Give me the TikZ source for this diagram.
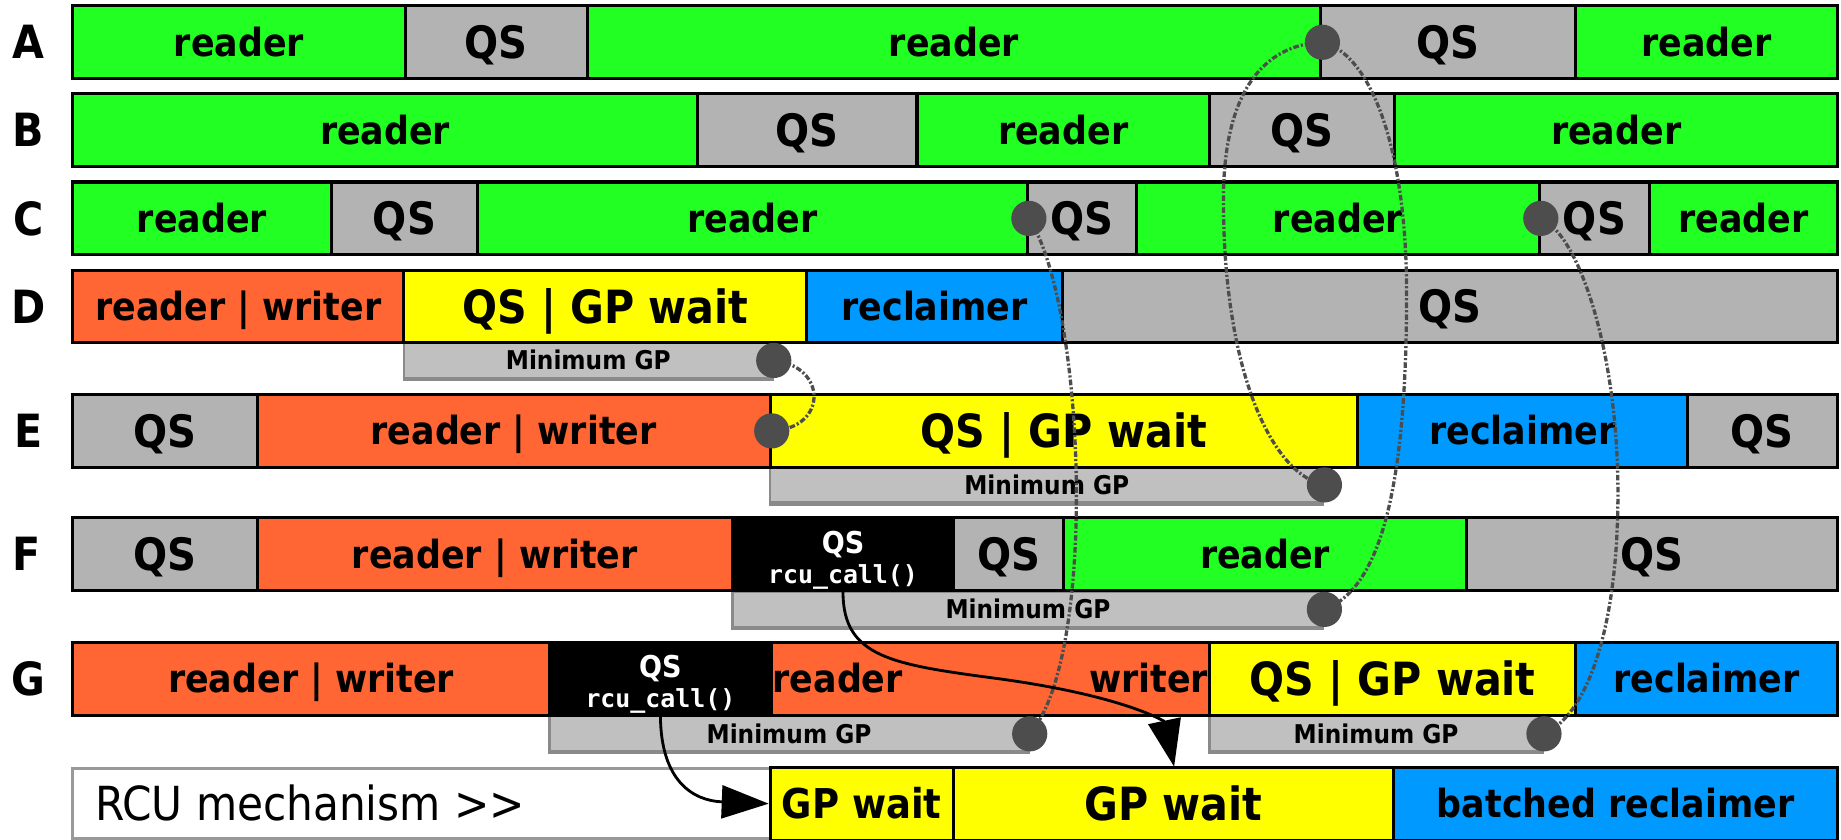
\documentclass[tikz,border=0pt]{standalone}
\usepackage{fontspec}
\setmainfont{DejaVu Sans Condensed}
\setmonofont{DejaVu Sans Mono}
\usetikzlibrary{arrows.meta}

\definecolor{rdgreen}{HTML}{22FF22}
\definecolor{qsgray}{HTML}{B3B3B3}
\definecolor{wrorange}{HTML}{FF6633}
\definecolor{gpyellow}{HTML}{FFFF00}
\definecolor{rcblue}{HTML}{0099FF}
\definecolor{bargray}{HTML}{C0C0C0}
\definecolor{baredge}{HTML}{8A8A8A}
\definecolor{rcuedge}{HTML}{999999}
\definecolor{dotgray}{HTML}{4D4D4D}

% one timeline segment: name, left x, right x, centre y, style, text
\newcommand\segbox[6]{\node[#5, minimum width={(#3-#2)*0.5pt}] (#1) at ({(#2+#3)/2},#4) {#6};}
% one "Minimum GP" bar: name, left x, right x, centre y
\newcommand\gpbarbox[4]{%
  \node[gpbar, minimum width={(#3-#2)*0.5pt}] (#1) at ({(#2+#3)/2},#4) {Minimum GP};
  \draw[baredge, line width=1.6pt] (#1.south west) -- (#1.south east);}

\begin{document}
\begin{tikzpicture}[x=0.5pt, y=-0.5pt,
  seg/.style={draw=black, line width=1.3pt, minimum height=31pt, inner sep=0pt,
    text height=12pt, text depth=0pt, font=\bfseries\fontsize{16.5}{18}\selectfont},
  reader/.style={seg, fill=rdgreen},
  qs/.style={seg, fill=qsgray, font=\bfseries\fontsize{19}{21}\selectfont, text height=13.9pt},
  rw/.style={seg, fill=wrorange},
  gp/.style={seg, fill=gpyellow, font=\bfseries\fontsize{19.5}{21}\selectfont, text height=14.2pt},
  gpsmall/.style={gp, font=\bfseries\fontsize{17.5}{19}\selectfont, text height=12.8pt},
  rec/.style={seg, fill=rcblue},
  callbox/.style={seg, fill=black},
  calltext/.style={text=white, inner sep=0pt, anchor=base, font=\bfseries\fontsize{12.8}{14}\selectfont},
  callcode/.style={text=white, inner sep=0pt, anchor=base, font=\ttfamily\bfseries\fontsize{10.6}{12}\selectfont},
  rcubox/.style={seg, fill=white, draw=rcuedge, minimum height=30pt},
  plaintext/.style={inner sep=1pt, text height=12pt, text depth=0pt, font=\bfseries\fontsize{16.5}{18}\selectfont},
  gpbar/.style={fill=bargray, draw=baredge, line width=1pt, minimum height=15pt, inner sep=0pt,
    text height=8pt, text depth=0pt, font=\bfseries\fontsize{11}{12}\selectfont},
  gpdot/.style={circle, fill=dotgray, minimum size=15pt, inner sep=0pt},
  rowlabel/.style={inner sep=0pt, text height=14.2pt, text depth=0pt, font=\bfseries\fontsize{19.5}{21}\selectfont},
  gpline/.style={draw=dotgray, line width=1.4pt, dash pattern=on 2.4pt off 0.9pt on 0.9pt off 0.9pt},
  callarrow/.style={draw=black, line width=1.2pt, -{Triangle[length=20pt,width=14pt]}}]

\useasboundingbox (0,0) rectangle (1568,715);
\fill[white] (0,0) rectangle (1568,715);

% grace-period bars (drawn first so that the rows cover their top edges)
\gpbarbox{mD}{344}{658}{307}
\gpbarbox{mE}{656}{1127}{413}
\gpbarbox{mF}{624}{1127}{519}
\gpbarbox{mGa}{468}{876}{625}
\gpbarbox{mGb}{1030}{1314}{625}

% row labels
\node[rowlabel] (lA) at (24,36) {A};
\node[rowlabel] (lB) at (24,111) {B};
\node[rowlabel] (lC) at (24,186) {C};
\node[rowlabel] (lD) at (24,261) {D};
\node[rowlabel] (lE) at (24,367) {E};
\node[rowlabel] (lF) at (23,472) {F};
\node[rowlabel] (lG) at (24,578) {G};

% CPU A
\segbox{a1}{62}{345}{36}{reader}{reader}
\segbox{a2}{345}{500}{36}{qs}{QS}
\segbox{a3}{500}{1125}{36}{reader}{reader}
\segbox{a4}{1125}{1342}{36}{qs}{QS}
\segbox{a5}{1342}{1565}{36}{reader}{reader}

% CPU B
\segbox{b1}{62}{594}{111}{reader}{reader}
\segbox{b2}{594}{781}{111}{qs}{QS}
\segbox{b3}{781}{1030}{111}{reader}{reader}
\segbox{b4}{1030}{1188}{111}{qs}{QS}
\segbox{b5}{1188}{1565}{111}{reader}{reader}

% CPU C
\segbox{c1}{62}{282}{186}{reader}{reader}
\segbox{c2}{282}{407}{186}{qs}{QS}
\segbox{c3}{407}{875}{186}{reader}{reader}
\segbox{c4}{875}{968}{186}{qs}{QS}
\segbox{c5}{968}{1311}{186}{reader}{reader}
\segbox{c6}{1311}{1405}{186}{qs}{QS}
\segbox{c7}{1405}{1565}{186}{reader}{reader}

% CPU D
\segbox{d1}{62}{344}{261}{rw}{reader | writer}
\segbox{d2}{344}{687}{261}{gp}{QS | GP wait}
\segbox{d3}{687}{905}{261}{rec}{reclaimer}
\segbox{d4}{905}{1565}{261}{qs}{QS}

% CPU E
\segbox{e1}{62}{219}{367}{qs}{QS}
\segbox{e2}{219}{656}{367}{rw}{reader | writer}
\segbox{e3}{656}{1156}{367}{gp}{QS | GP wait}
\segbox{e4}{1156}{1437}{367}{rec}{reclaimer}
\segbox{e5}{1437}{1565}{367}{qs}{QS}

% CPU F
\segbox{f1}{62}{219}{472}{qs}{QS}
\segbox{f2}{219}{624}{472}{rw}{reader | writer}
\segbox{f3}{624}{812}{472}{callbox}{}
\segbox{f4}{812}{906}{472}{qs}{QS}
\segbox{f5}{906}{1249}{472}{reader}{reader}
\segbox{f6}{1249}{1565}{472}{qs}{QS}
\node[calltext] (f3q) at ([yshift=0.5pt]f3.center) {QS};
\node[callcode] (f3c) at ([yshift=-12.5pt]f3.center) {rcu\_call()};

% CPU G
\segbox{g1}{62}{468}{578}{rw}{reader | writer}
\segbox{g2}{468}{657}{578}{callbox}{}
\segbox{g3}{657}{1030}{578}{rw}{}
\segbox{g4}{1030}{1342}{578}{gp}{QS | GP wait}
\segbox{g5}{1342}{1565}{578}{rec}{reclaimer}
\node[calltext] (g2q) at ([yshift=0.5pt]g2.center) {QS};
\node[callcode] (g2c) at ([yshift=-12.5pt]g2.center) {rcu\_call()};
\node[plaintext, anchor=west] (g3r) at (g3.west) {reader};
\node[plaintext, anchor=east] (g3w) at (g3.east) {writer};

% RCU mechanism
\segbox{h1}{62}{656}{684.5}{rcubox}{}
\node[anchor=west, inner sep=0pt, text height=14.6pt, text depth=0pt,
  font=\fontsize{20}{22}\selectfont] (h1t) at ([xshift=10pt]h1.west) {RCU mechanism >{}>};
\segbox{h2}{656}{812}{684.5}{gpsmall}{GP wait}
\segbox{h3}{812}{1187}{684.5}{gp}{GP wait}
\segbox{h4}{1187}{1565}{684.5}{rec}{batched reclaimer}

% grace-period end points
\coordinate (pA) at (a3.east);
\coordinate (pCa) at (c3.east);
\coordinate (pCb) at (c5.east);
\coordinate (pE) at (e2.east);
\coordinate (pD) at (mD.east);
\coordinate (pEm) at (mE.east);
\coordinate (pFm) at (mF.east);
\coordinate (pGa) at (mGa.east);
\coordinate (pGb) at (mGb.east);
\coordinate (tipF) at (1000,653);

% quiescent-state links
\draw[gpline] (pD) .. controls (705,312) and (705,365) .. (pE);
\draw[gpline] (pCa) .. controls (925,260) and (935,560) .. (pGa);
\draw[gpline] (pA) .. controls (1075,38) and (1042,80) .. (1042,170)
  .. controls (1042,320) and (1085,405) .. (pEm);
\draw[gpline] (pA) .. controls (1165,45) and (1198,120) .. (1198,250)
  .. controls (1198,400) and (1180,500) .. (pFm);
\draw[gpline] (pCb) .. controls (1345,200) and (1378,300) .. (1378,420)
  .. controls (1378,540) and (1350,610) .. (pGb);

% callbacks handed to the RCU mechanism
\draw[callarrow] (f3.south) .. controls (718,560) and (760,566) .. (850,578)
  .. controls (960,593) and (992,615) .. (tipF);
\draw[callarrow] (g2.south) .. controls (563,665) and (590,682) .. (h2.west);

% dots
\foreach \p in {pA,pCa,pCb,pE,pD,pEm,pFm,pGa,pGb}
  \node[gpdot] (dot-\p) at (\p) {};
\end{tikzpicture}
\end{document}
